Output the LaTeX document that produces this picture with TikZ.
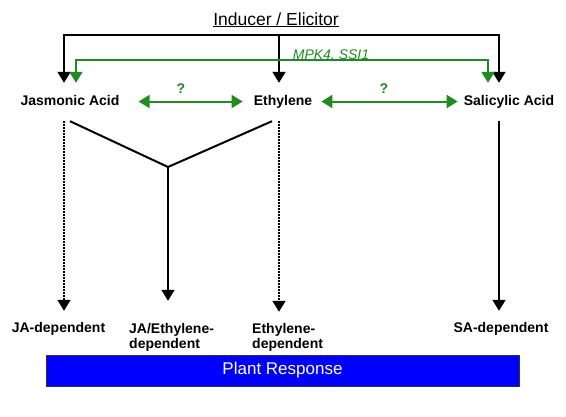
\documentclass[tikz,border=0pt]{standalone}
\usepackage{fontspec}
\setmainfont{Liberation Sans}
\usetikzlibrary{arrows.meta}
\definecolor{pathgreen}{RGB}{30,140,30}
\definecolor{respblue}{RGB}{0,0,255}

\begin{document}
\begin{tikzpicture}[x=1pt,y=-1pt,
    hormone/.style={font=\fontsize{14}{16}\selectfont\bfseries, inner sep=2pt, text height=10pt, text depth=3pt},
    outcome/.style={font=\fontsize{14}{15}\selectfont\bfseries, inner sep=0pt, align=left},
    tip/.style={-{Triangle[width=13pt,length=11pt]}},
    bothtips/.style={{Triangle[width=13pt,length=11pt]}-{Triangle[width=13pt,length=11pt]}},
    signal/.style={line width=2pt},
    crosstalk/.style={line width=2pt, draw=pathgreen, bothtips},
    dotline/.style={line width=1.7pt, dash pattern=on 1.5pt off 1.5pt}]
    \useasboundingbox (0,0) rectangle (566,416);

    % elicitor and the three hormones
    \node[font=\fontsize{17.5}{20}\selectfont, inner sep=0pt, text height=13pt, text depth=3pt] (ind) at (276,20) {\underline{Inducer / Elicitor}};
    \node[hormone] (ja)  at (70,101.5)  {Jasmonic Acid};
    \node[hormone] (eth) at (283,101.5) {Ethylene};
    \node[hormone] (sa)  at (509,101.5) {Salicylic Acid};

    \coordinate (barL) at (64,35);
    \coordinate (barM) at (279,35);
    \coordinate (barR) at (499,35);
    \draw[signal, bothtips, shorten <=10pt, shorten >=10pt]
        (barL |- ja.north) -- (barL) -- (barR) -- (barR |- sa.north);
    \draw[signal, tip, shorten >=10pt] (barM) -- (barM |- eth.north);

    % MPK4 / SSI1 control
    \coordinate (grnL) at (76,60);
    \coordinate (grnR) at (488,60);
    \draw[crosstalk, shorten <=10pt, shorten >=10pt]
        (grnL |- ja.north) -- (grnL) -- (grnR) -- (grnR |- sa.north);
    \node[font=\fontsize{14}{16}\selectfont\itshape, text=pathgreen, inner sep=0pt, text height=10pt, text depth=3pt] (mpk) at (331,55.5) {MPK4, SSI1};

    % cross-talk
    \draw[crosstalk, shorten <=17pt, shorten >=9pt] (ja) -- (eth);
    \draw[crosstalk, shorten <=7pt, shorten >=4pt] (eth) -- (sa);
    \node[font=\fontsize{14}{16}\selectfont\bfseries, text=pathgreen, inner sep=0pt] (q1) at (181,89) {?};
    \node[font=\fontsize{14}{16}\selectfont\bfseries, text=pathgreen, inner sep=0pt] (q2) at (384,89) {?};

    % responses
    \node[outcome] (jadep)  at (58.5,328.5) {JA-dependent};
    \node[outcome, anchor=west] (jaeth)  at (129,337) {JA/Ethylene-\\dependent};
    \node[outcome, anchor=west] (ethdep) at (252,337) {Ethylene-\\dependent};
    \node[outcome] (sadep)  at (501,328.5) {SA-dependent};

    \coordinate (yj) at (168,167);
    \draw[signal] ([yshift=-11pt]ja.south) -- (yj) -- ([xshift=-11pt,yshift=-11pt]eth.south);
    \draw[signal, tip, shorten >=22pt] (yj) -- (yj |- jaeth.north);
    \draw[dotline, tip, shorten >=22pt] ([xshift=-6pt,yshift=-11pt]ja.south) -- ([xshift=-6pt,yshift=-11pt]ja.south |- jadep.north);
    \draw[dotline, tip, shorten >=22pt] ([xshift=-4pt,yshift=-11pt]eth.south) -- ([xshift=-4pt,yshift=-11pt]eth.south |- ethdep.north);
    \draw[signal, tip, shorten >=22pt] ([xshift=-10pt,yshift=-11pt]sa.south) -- ([xshift=-10pt,yshift=-11pt]sa.south |- sadep.north);

    \node[draw=black!80, line width=0.8pt, fill=respblue, text=white, font=\fontsize{17}{20}\selectfont,
        minimum width=473pt, minimum height=31pt, inner sep=0pt] (resp) at (282.5,370.5) {Plant Response};
\end{tikzpicture}
\end{document}
